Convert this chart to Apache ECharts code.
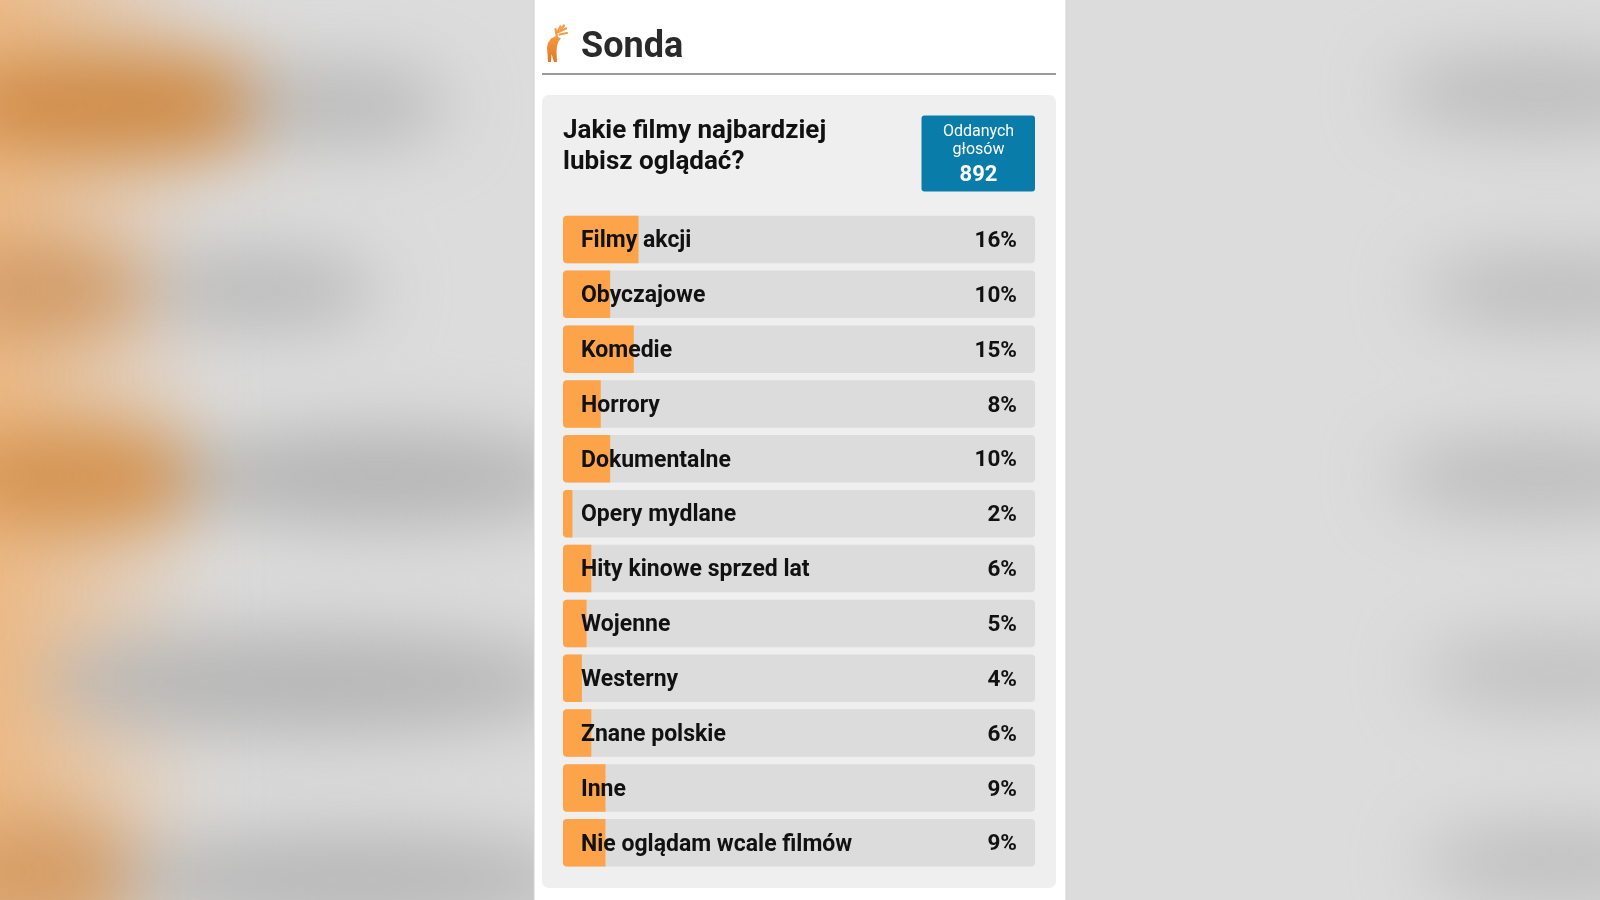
<!DOCTYPE html>
<html>
<head>
<meta charset="utf-8">
<script src="https://cdn.jsdelivr.net/npm/echarts@6/dist/echarts.min.js"></script>
<style>
  html, body { margin:0; padding:0; }
  body { width:1600px; height:900px; background:#dcdcdc; overflow:hidden; position:relative; font-family: Roboto, sans-serif; }
  #bg { position:absolute; left:0; top:0; width:1600px; height:900px; filter: blur(34px); }
  #bg div { position:absolute; border-radius:50%; }
  #chart { position:absolute; left:0; top:0; width:1600px; height:900px; }
</style>
</head>
<body>
<div id="bg">
  <div style="left:-120px;top:-60px;width:330px;height:1020px;border-radius:0;background:linear-gradient(to right,#f2be89 0,#ecb67f 110px,rgba(236,182,127,0) 330px);"></div>
  <div style="left:-60px;top:50px;width:380px;height:110px;background:#cf8c48;"></div>
  <div style="left:230px;top:65px;width:220px;height:80px;background:#b9b9b9;"></div>
  <div style="left:-60px;top:245px;width:210px;height:90px;background:#d09a66;"></div>
  <div style="left:140px;top:250px;width:240px;height:80px;background:#bababa;"></div>
  <div style="left:-60px;top:425px;width:290px;height:105px;background:#d49350;"></div>
  <div style="left:170px;top:430px;width:420px;height:95px;background:#b4b4b4;"></div>
  <div style="left:40px;top:630px;width:540px;height:105px;background:#b6b6b6;"></div>
  <div style="left:-60px;top:815px;width:210px;height:120px;background:#d59d66;"></div>
  <div style="left:110px;top:830px;width:480px;height:100px;background:#b8b8b8;"></div>
  <div style="left:1390px;top:55px;width:300px;height:75px;background:#bababa;"></div>
  <div style="left:1420px;top:253px;width:280px;height:75px;background:#bcbcbc;"></div>
  <div style="left:1390px;top:439px;width:300px;height:75px;background:#bababa;"></div>
  <div style="left:1420px;top:635px;width:280px;height:75px;background:#bfbfbf;"></div>
  <div style="left:1420px;top:825px;width:280px;height:75px;background:#bdbdbd;"></div>
</div>
<div id="chart"></div>
<script>
// ---- data ----
const categories = [
  'Filmy akcji', 'Obyczajowe', 'Komedie', 'Horrory', 'Dokumentalne',
  'Opery mydlane', 'Hity kinowe sprzed lat', 'Wojenne', 'Westerny',
  'Znane polskie', 'Inne', 'Nie oglądam wcale filmów'
];
const percentValues = [16, 10, 15, 8, 10, 2, 6, 5, 4, 6, 9, 9];
const percentLabels = percentValues.map(v => v + '%');
const headerTitle = 'Sonda';
const questionLines = ['Jakie filmy najbardziej', 'lubisz oglądać?'];
const votesLabelLines = ['Oddanych', 'głosów'];
const votesTotal = 892;

const FONT = 'Roboto, sans-serif';
const chart = echarts.init(document.getElementById('chart'), null, { renderer: 'canvas' });

const antlers = [
  [[557, 37], [555.5, 29]],
  [[556.5, 33], [560.5, 26.5]],
  [[558.5, 32], [566, 28.5]],
  [[559.5, 34.5], [567, 33]],
  [[561, 29.5], [564, 25.5]]
];

const option = {
  backgroundColor: 'transparent',
  animation: false,
  graphic: [
    { type: 'rect', z: -10, shape: { x: 534, y: 0, width: 532, height: 900 }, style: { fill: '#ffffff' } },
    { type: 'line', z: -9, shape: { x1: 534, y1: 0, x2: 534, y2: 900 }, style: { stroke: '#d2d2d2', lineWidth: 1 } },
    { type: 'line', z: -9, shape: { x1: 1066, y1: 0, x2: 1066, y2: 900 }, style: { stroke: '#d2d2d2', lineWidth: 1 } },
    // header icon
    { type: 'polygon', z: -8, shape: { points: [[556,36],[551,38.5],[548,43],[547,48],[547.5,54],[548,62],[551,62],[551.5,54],[554,62],[557,62],[556.5,52],[557,46],[558.5,41.5],[561,38.5]] },
      style: { fill: { type: 'linear', x: 0, y: 0, x2: 0, y2: 1, colorStops: [{ offset: 0, color: '#f39a3e' }, { offset: 1, color: '#e2782a' }] } } },
    ...antlers.map(pts => ({ type: 'polyline', z: -8, shape: { points: pts }, style: { stroke: '#f29b48', lineWidth: 2.2, fill: null, lineCap: 'round' } })),
    { type: 'text', z: -8, style: { x: 581, y: 48, text: headerTitle, font: 'bold 36px ' + FONT, fill: '#2a2a2a', verticalAlign: 'middle' } },
    { type: 'line', z: -8, shape: { x1: 542, y1: 74, x2: 1056, y2: 74 }, style: { stroke: '#9b9b9b', lineWidth: 2 } },
    // poll box
    { type: 'rect', z: -7, shape: { x: 542, y: 95, width: 514, height: 793, r: 7 }, style: { fill: '#efefef' } },
    { type: 'text', z: -6, style: { x: 563, y: 131, text: questionLines[0], font: 'bold 26px ' + FONT, fill: '#111111', verticalAlign: 'middle' } },
    { type: 'text', z: -6, style: { x: 563, y: 162, text: questionLines[1], font: 'bold 26px ' + FONT, fill: '#111111', verticalAlign: 'middle' } },
    { type: 'rect', z: -6, shape: { x: 921.5, y: 115.5, width: 113.5, height: 76, r: 3 }, style: { fill: '#0a7caa' } },
    { type: 'text', z: -5, style: { x: 978.5, y: 132, text: votesLabelLines[0], font: '16px ' + FONT, fill: '#ffffff', align: 'center', verticalAlign: 'middle' } },
    { type: 'text', z: -5, style: { x: 978.5, y: 150, text: votesLabelLines[1], font: '16px ' + FONT, fill: '#ffffff', align: 'center', verticalAlign: 'middle' } },
    { type: 'text', z: -5, style: { x: 978.5, y: 175, text: String(votesTotal), font: 'bold 22px ' + FONT, fill: '#ffffff', align: 'center', verticalAlign: 'middle' } }
  ],
  grid: { left: 563, top: 212, width: 472, height: 658.2, containLabel: false },
  xAxis: { type: 'value', min: 0, max: 100, show: false },
  yAxis: [
    {
      type: 'category', inverse: true, data: categories, position: 'left', z: 10,
      axisLine: { show: false }, axisTick: { show: false }, splitLine: { show: false },
      axisLabel: { inside: true, margin: 18, color: '#111111', fontFamily: FONT, fontWeight: 'bold', fontSize: 23, verticalAlign: 'top', lineHeight: 4 }
    },
    {
      type: 'category', inverse: true, data: percentLabels, position: 'right', z: 10,
      axisLine: { show: false }, axisTick: { show: false }, splitLine: { show: false },
      axisLabel: { inside: true, margin: 18, color: '#111111', fontFamily: FONT, fontWeight: 'bold', fontSize: 22.5, verticalAlign: 'top', lineHeight: 4 }
    }
  ],
  series: [
    {
      type: 'bar', yAxisIndex: 0, data: percentValues, barWidth: 47.5,
      showBackground: true,
      backgroundStyle: { color: '#dcdcdc', borderRadius: 4 },
      itemStyle: { color: '#fda44b', borderRadius: [4, 0, 0, 4] },
      label: { show: false }
    }
  ]
};
chart.setOption(option);
</script>
</body>
</html>
